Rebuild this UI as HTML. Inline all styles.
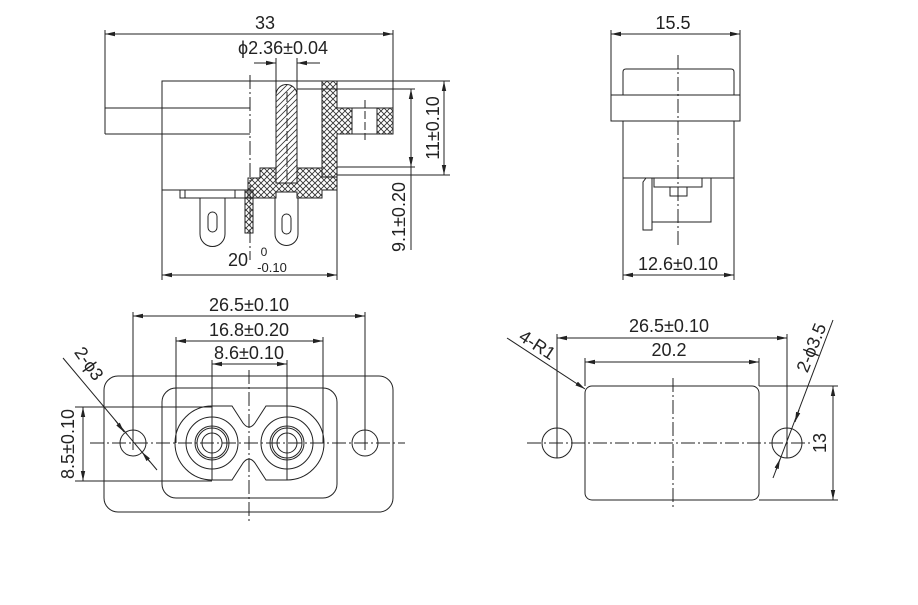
<!DOCTYPE html>
<html><head><meta charset="utf-8"><style>
html,body{margin:0;padding:0;background:#fff}
svg{display:block}
text{font-family:"Liberation Sans",sans-serif;fill:#222}
</style></head><body>
<svg width="918" height="605" viewBox="0 0 918 605" xmlns="http://www.w3.org/2000/svg">
<defs>
<pattern id="xh" width="6" height="6" patternUnits="userSpaceOnUse">
<path d="M0,0L6,6M6,0L0,6" stroke="#333" stroke-width="0.9"/>
</pattern>
<pattern id="sh" width="6" height="6" patternUnits="userSpaceOnUse">
<path d="M-1,7L7,-1M-1,1L1,-1M5,7L7,5" stroke="#333" stroke-width="0.8"/>
</pattern>
<marker id="a" markerWidth="10" markerHeight="6" refX="10" refY="3" orient="auto-start-reverse" markerUnits="userSpaceOnUse">
<path d="M0,0.8L10,3L0,5.2z" fill="#222"/>
</marker>
</defs>
<g stroke="#222" stroke-width="1" fill="none">
<line x1="105" y1="34" x2="393" y2="34" marker-start="url(#a)" marker-end="url(#a)"/>
<line x1="105" y1="30" x2="105" y2="134"/>
<line x1="393" y1="30" x2="393" y2="134"/>
<path d="M105,108H250M105,134H250M105,108V134"/>
<path d="M162,190V81H337"/>
<line x1="162" y1="190" x2="248" y2="190"/>
<line x1="250" y1="75" x2="250" y2="260" stroke-dasharray="14,3,2,3"/>
<line x1="254" y1="63" x2="276" y2="63" marker-end="url(#a)"/>
<line x1="320" y1="63" x2="297" y2="63" marker-end="url(#a)"/>
<line x1="276" y1="58" x2="276" y2="170"/>
<line x1="297" y1="58" x2="297" y2="170"/>
<path d="M276,183V95A10.5,10.5 0 0 1 297,95V183Z" fill="url(#sh)"/>
<line x1="287" y1="92" x2="287" y2="180" stroke-dasharray="10,3"/>
<path d="M322,81H337V108H352V134H337V177H322Z" fill="url(#xh)"/>
<path d="M377,108H393V134H377Z" fill="url(#xh)"/>
<path d="M352,108H377M352,134H377"/>
<line x1="365" y1="100" x2="365" y2="140" stroke-dasharray="8,3"/>
<path d="M248,178H260V168H276V183H297V168H322V177H337V190H322V198H297V192H276V198H248Z" fill="url(#xh)"/>
<path d="M248,190V198"/>
<path d="M180,190V198H248M185,190V198M235,190V198"/>
<path d="M200,198V234A12.5,12.5 0 0 0 225,234V198"/>
<rect x="208" y="212" width="9" height="20" rx="4.5"/>
<path d="M275,198V234A11.5,11.5 0 0 0 298,234V198"/>
<rect x="282" y="214" width="9" height="20" rx="4.5"/>
<rect x="245" y="190" width="8" height="43" fill="url(#xh)"/>
<line x1="162" y1="190" x2="162" y2="280"/>
<line x1="337" y1="190" x2="337" y2="280"/>
<line x1="162" y1="275" x2="337" y2="275" marker-start="url(#a)" marker-end="url(#a)"/>
<line x1="337" y1="81" x2="450" y2="81"/>
<line x1="337" y1="175" x2="450" y2="175"/>
<line x1="444" y1="81" x2="444" y2="175" marker-start="url(#a)" marker-end="url(#a)"/>
<line x1="297" y1="89" x2="415" y2="89"/>
<line x1="337" y1="167" x2="415" y2="167"/>
<line x1="411" y1="89" x2="411" y2="167" marker-start="url(#a)" marker-end="url(#a)"/>
<line x1="411" y1="167" x2="411" y2="250"/>

<line x1="611" y1="34" x2="740" y2="34" marker-start="url(#a)" marker-end="url(#a)"/>
<line x1="611" y1="30" x2="611" y2="121"/>
<line x1="740" y1="30" x2="740" y2="121"/>
<rect x="611" y="95" width="129" height="26"/>
<path d="M623,95V72Q623,69 626,69H731Q734,69 734,72V95"/>
<path d="M623,121V280M734,121V280M623,178H734"/>
<line x1="678" y1="55" x2="678" y2="248" stroke-dasharray="14,3,2,3"/>
<path d="M643,182L646,178H652V230H643Z"/>
<path d="M652,222H711V178"/>
<path d="M654,178V187H702V178"/>
<rect x="670" y="187" width="17" height="9"/>
<line x1="623" y1="275" x2="734" y2="275" marker-start="url(#a)" marker-end="url(#a)"/>

<rect x="104" y="376" width="289" height="136" rx="14"/>
<rect x="162" y="388" width="175" height="110" rx="14"/>
<line x1="133" y1="316" x2="365" y2="316" marker-start="url(#a)" marker-end="url(#a)"/>
<line x1="133" y1="312" x2="133" y2="450"/>
<line x1="365" y1="312" x2="365" y2="450"/>
<line x1="176" y1="341" x2="323" y2="341" marker-start="url(#a)" marker-end="url(#a)"/>
<line x1="176" y1="337" x2="176" y2="443"/>
<line x1="323" y1="337" x2="323" y2="443"/>
<line x1="212" y1="364" x2="287" y2="364" marker-start="url(#a)" marker-end="url(#a)"/>
<line x1="212" y1="360" x2="212" y2="480"/>
<line x1="287" y1="360" x2="287" y2="480"/>
<circle cx="133" cy="443" r="13"/>
<circle cx="365" cy="443" r="13"/>
<path d="M232,406H212A37,37 0 0 0 212,480H232L243,463Q249,455 255,463L266,480H287A37,37 0 0 0 287,406H266L255,423Q249,431 243,423Z"/>
<circle cx="212" cy="443" r="26"/><circle cx="212" cy="443" r="17"/><circle cx="212" cy="443" r="15"/><circle cx="212" cy="443" r="10"/>
<circle cx="287" cy="443" r="26"/><circle cx="287" cy="443" r="17"/><circle cx="287" cy="443" r="15"/><circle cx="287" cy="443" r="10"/>
<line x1="90" y1="443" x2="405" y2="443" stroke-dasharray="14,3,2,3"/>
<line x1="249" y1="370" x2="249" y2="522" stroke-dasharray="14,3,2,3"/>
<line x1="75" y1="407" x2="212" y2="407"/>
<line x1="75" y1="481" x2="212" y2="481"/>
<line x1="83" y1="407" x2="83" y2="481" marker-start="url(#a)" marker-end="url(#a)"/>
<line x1="63" y1="358" x2="157" y2="470"/>
<line x1="115" y1="420" x2="124" y2="432" marker-end="url(#a)"/>
<line x1="150" y1="462" x2="142" y2="452" marker-end="url(#a)"/>

<rect x="585" y="386" width="174" height="114" rx="7"/>
<line x1="557" y1="338" x2="787" y2="338" marker-start="url(#a)" marker-end="url(#a)"/>
<line x1="557" y1="334" x2="557" y2="458"/>
<line x1="787" y1="334" x2="787" y2="458"/>
<line x1="585" y1="362" x2="759" y2="362" marker-start="url(#a)" marker-end="url(#a)"/>
<line x1="585" y1="358" x2="585" y2="386"/>
<line x1="759" y1="358" x2="759" y2="386"/>
<circle cx="557" cy="443" r="15"/>
<circle cx="787" cy="443" r="15"/>
<line x1="527" y1="443" x2="812" y2="443" stroke-dasharray="14,3,2,3"/>
<line x1="673" y1="378" x2="673" y2="510" stroke-dasharray="14,3,2,3"/>
<line x1="759" y1="386" x2="838" y2="386"/>
<line x1="759" y1="500" x2="838" y2="500"/>
<line x1="833" y1="386" x2="833" y2="500" marker-start="url(#a)" marker-end="url(#a)"/>
<line x1="507" y1="338" x2="585" y2="389" marker-end="url(#a)"/>
<line x1="833" y1="320" x2="773" y2="478"/>
<line x1="799" y1="410" x2="795" y2="422" marker-end="url(#a)"/>
<line x1="776" y1="470" x2="780" y2="459" marker-end="url(#a)"/>
</g>
<g font-size="18">
<text x="265" y="29" text-anchor="middle">33</text>
<text x="283" y="54" text-anchor="middle">ϕ2.36±0.04</text>
<text x="238" y="266" text-anchor="middle">20</text>
<text x="264" y="256" text-anchor="middle" font-size="12">0</text>
<text x="272" y="272" text-anchor="middle" font-size="13">-0.10</text>
<text transform="translate(439,128) rotate(-90)" text-anchor="middle">11±0.10</text>
<text transform="translate(405,217) rotate(-90)" text-anchor="middle">9.1±0.20</text>
<text x="673" y="29" text-anchor="middle">15.5</text>
<text x="678" y="270" text-anchor="middle">12.6±0.10</text>
<text x="249" y="311" text-anchor="middle">26.5±0.10</text>
<text x="249" y="336" text-anchor="middle">16.8±0.20</text>
<text x="249" y="359" text-anchor="middle">8.6±0.10</text>
<text transform="translate(74,444) rotate(-90)" text-anchor="middle">8.5±0.10</text>
<text transform="translate(84,367) rotate(55)" text-anchor="middle">2-ϕ3</text>
<text x="669" y="332" text-anchor="middle">26.5±0.10</text>
<text x="669" y="356" text-anchor="middle">20.2</text>
<text transform="translate(826,443) rotate(-90)" text-anchor="middle">13</text>
<text transform="translate(534,350) rotate(33)" text-anchor="middle">4-R1</text>
<text transform="translate(817,350) rotate(-68)" text-anchor="middle">2-ϕ3.5</text>
</g>
</svg>
</body></html>
